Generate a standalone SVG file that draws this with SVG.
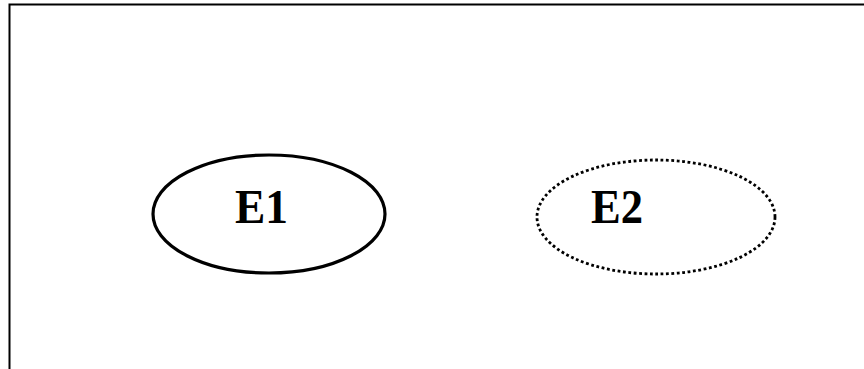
<svg xmlns="http://www.w3.org/2000/svg" width="864" height="369" viewBox="0 0 864 369">
  <style>
    .frame { fill: none; stroke: #000; stroke-width: 2; }
    .entity { fill: #fff; stroke: #000; }
    .solid { stroke-width: 3.2; }
    .dotted { stroke-width: 2.8; stroke-dasharray: 2.8 2.6; }
    .label { font-family: "Liberation Serif", "Times New Roman", serif; font-weight: bold; font-size: 48px; fill: #000; }
  </style>
  <rect width="864" height="369" fill="#fff"/>
  <!-- outer frame: top and left edges -->
  <path class="frame" d="M9.5,369 V4.5 H864"/>
  <g id="E1">
    <ellipse class="entity solid" cx="269" cy="214" rx="116" ry="59"/>
    <text class="label" x="235" y="223" textLength="53" lengthAdjust="spacingAndGlyphs">E1</text>
  </g>
  <g id="E2">
    <ellipse class="entity dotted" cx="656" cy="217" rx="119" ry="57"/>
    <text class="label" x="591" y="223" textLength="52" lengthAdjust="spacingAndGlyphs">E2</text>
  </g>
  <g id="connectors"/>
</svg>
